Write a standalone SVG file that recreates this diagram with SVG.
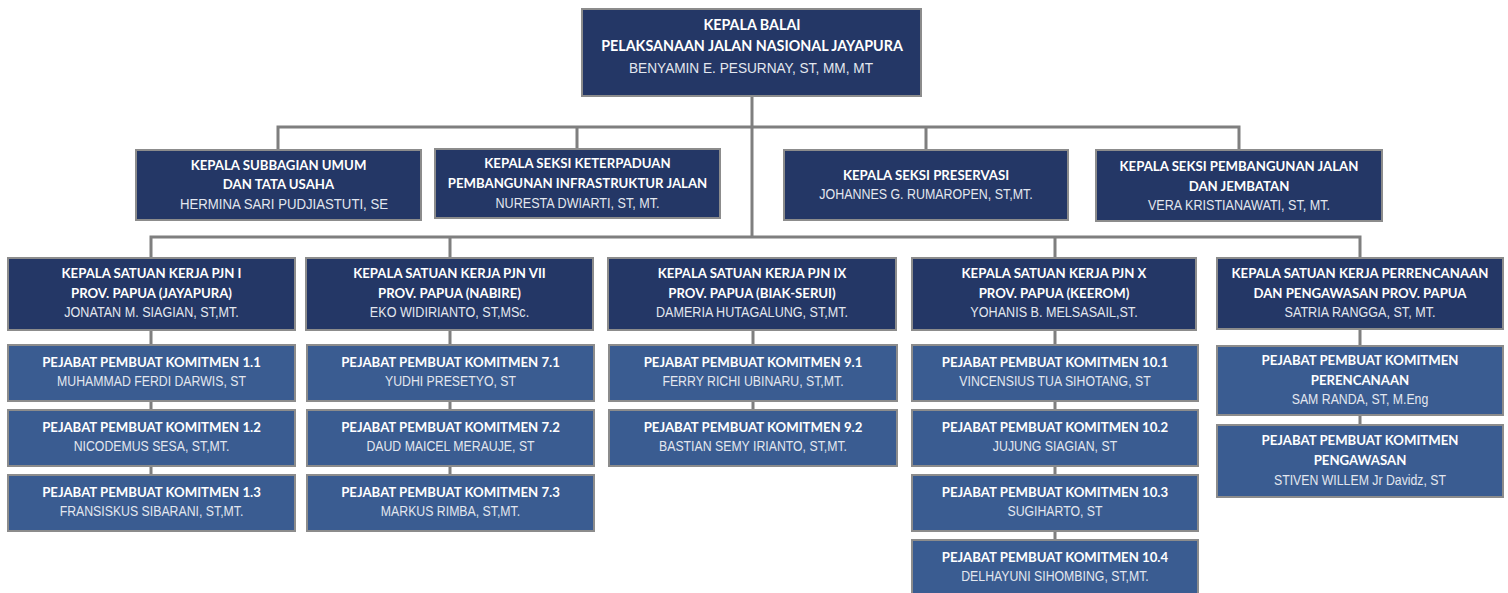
<svg xmlns="http://www.w3.org/2000/svg" width="1508" height="593" viewBox="0 0 1508 593">
<style>
.c{fill:none;stroke:#7f7f7f;stroke-width:3}
.d{fill:#243766;stroke:#8c8c8c;stroke-width:2}
.s{fill:#3a5c91;stroke:#8c8c8c;stroke-width:2}
.t{font-family:Lato,"Open Sans","Liberation Sans",sans-serif;font-weight:700;font-size:13.2px;fill:#ffffff;text-anchor:middle}
.tb{font-size:14.3px}
.n{font-family:"Liberation Sans Narrow","Liberation Sans",sans-serif;font-size:15px;fill:#e3e7ef;text-anchor:middle}
</style>
<rect width="1508" height="593" fill="#ffffff"/>
<g id="connectors">
<path class="c" d="M752 96V238"/>
<path class="c" d="M278 150V127H1239V150M577 127V149M926 127V150"/>
<path class="c" d="M151 258V237H1360V258M450 237V258M1055 237V258"/>
<path class="c" d="M151 330V475M450 330V475M753 330V410M1055 330V540M1360 330V425"/>
</g>
<g id="kepala-balai"><rect class="d" x="582" y="9" width="339" height="87"/>
<text class="t tb" x="752" y="30">KEPALA BALAI</text>
<text class="t tb" x="752" y="51">PELAKSANAAN JALAN NASIONAL JAYAPURA</text>
<text class="n" x="0" y="73" transform="matrix(0.91 0 0 1 751 0)">BENYAMIN E. PESURNAY, ST, MM, MT</text></g>
<g id="subbagian-umum"><rect class="d" x="136" y="150" width="285" height="70"/>
<text class="t" x="278.5" y="170">KEPALA SUBBAGIAN UMUM</text>
<text class="t" x="278.5" y="189">DAN TATA USAHA</text>
<text class="n" x="0" y="209" transform="matrix(0.88 0 0 1 284 0)">HERMINA SARI PUDJIASTUTI, SE</text></g>
<g id="seksi-keterpaduan"><rect class="d" x="435" y="149" width="285" height="69"/>
<text class="t" x="577.5" y="168">KEPALA SEKSI KETERPADUAN</text>
<text class="t" x="577.5" y="188">PEMBANGUNAN INFRASTRUKTUR JALAN</text>
<text class="n" x="0" y="208" transform="matrix(0.84 0 0 1 577.5 0)">NURESTA DWIARTI, ST, MT.</text></g>
<g id="seksi-preservasi"><rect class="d" x="784" y="150" width="284" height="70"/>
<text class="t" x="926" y="180">KEPALA SEKSI PRESERVASI</text>
<text class="n" x="0" y="199" transform="matrix(0.83 0 0 1 926 0)">JOHANNES G. RUMAROPEN, ST,MT.</text></g>
<g id="seksi-pembangunan"><rect class="d" x="1096" y="150" width="286" height="71"/>
<text class="t" x="1239" y="171">KEPALA SEKSI PEMBANGUNAN JALAN</text>
<text class="t" x="1239" y="191">DAN JEMBATAN</text>
<text class="n" x="0" y="210" transform="matrix(0.84 0 0 1 1239 0)">VERA KRISTIANAWATI, ST, MT.</text></g>
<g id="satker-pjn-1"><rect class="d" x="8" y="258" width="287" height="72"/>
<text class="t" x="151.5" y="278">KEPALA SATUAN KERJA PJN I</text>
<text class="t" x="151.5" y="298">PROV. PAPUA (JAYAPURA)</text>
<text class="n" x="0" y="317" transform="matrix(0.84 0 0 1 151.5 0)">JONATAN M. SIAGIAN, ST,MT.</text></g>
<g id="satker-pjn-7"><rect class="d" x="306" y="258" width="287" height="72"/>
<text class="t" x="449.5" y="278">KEPALA SATUAN KERJA PJN VII</text>
<text class="t" x="449.5" y="298">PROV. PAPUA (NABIRE)</text>
<text class="n" x="0" y="317" transform="matrix(0.84 0 0 1 449.5 0)">EKO WIDIRIANTO, ST,MSc.</text></g>
<g id="satker-pjn-9"><rect class="d" x="608" y="258" width="288" height="72"/>
<text class="t" x="752" y="278">KEPALA SATUAN KERJA PJN IX</text>
<text class="t" x="752" y="298">PROV. PAPUA (BIAK-SERUI)</text>
<text class="n" x="0" y="317" transform="matrix(0.84 0 0 1 752 0)">DAMERIA HUTAGALUNG, ST,MT.</text></g>
<g id="satker-pjn-10"><rect class="d" x="912" y="258" width="284" height="72"/>
<text class="t" x="1054" y="278">KEPALA SATUAN KERJA PJN X</text>
<text class="t" x="1054" y="298">PROV. PAPUA (KEEROM)</text>
<text class="n" x="0" y="317" transform="matrix(0.84 0 0 1 1054 0)">YOHANIS B. MELSASAIL,ST.</text></g>
<g id="satker-perencanaan"><rect class="d" x="1217" y="258" width="286" height="71"/>
<text class="t" x="1360" y="278">KEPALA SATUAN KERJA PERRENCANAAN</text>
<text class="t" x="1360" y="298">DAN PENGAWASAN PROV. PAPUA</text>
<text class="n" x="0" y="317" transform="matrix(0.84 0 0 1 1360 0)">SATRIA RANGGA, ST, MT.</text></g>
<g id="ppk-1-1"><rect class="s" x="8" y="345" width="287" height="56"/>
<text class="t" x="151.5" y="367">PEJABAT PEMBUAT KOMITMEN 1.1</text>
<text class="n" x="0" y="386" transform="matrix(0.82 0 0 1 151.5 0)">MUHAMMAD FERDI DARWIS, ST</text></g>
<g id="ppk-1-2"><rect class="s" x="8" y="410" width="287" height="56"/>
<text class="t" x="151.5" y="432">PEJABAT PEMBUAT KOMITMEN 1.2</text>
<text class="n" x="0" y="451" transform="matrix(0.82 0 0 1 151.5 0)">NICODEMUS SESA, ST,MT.</text></g>
<g id="ppk-1-3"><rect class="s" x="8" y="475" width="287" height="56"/>
<text class="t" x="151.5" y="497">PEJABAT PEMBUAT KOMITMEN 1.3</text>
<text class="n" x="0" y="516" transform="matrix(0.82 0 0 1 151.5 0)">FRANSISKUS SIBARANI, ST,MT.</text></g>
<g id="ppk-7-1"><rect class="s" x="307" y="345" width="287" height="56"/>
<text class="t" x="450.5" y="367">PEJABAT PEMBUAT KOMITMEN 7.1</text>
<text class="n" x="0" y="386" transform="matrix(0.82 0 0 1 450.5 0)">YUDHI PRESETYO, ST</text></g>
<g id="ppk-7-2"><rect class="s" x="307" y="410" width="287" height="56"/>
<text class="t" x="450.5" y="432">PEJABAT PEMBUAT KOMITMEN 7.2</text>
<text class="n" x="0" y="451" transform="matrix(0.82 0 0 1 450.5 0)">DAUD MAICEL MERAUJE, ST</text></g>
<g id="ppk-7-3"><rect class="s" x="307" y="475" width="287" height="56"/>
<text class="t" x="450.5" y="497">PEJABAT PEMBUAT KOMITMEN 7.3</text>
<text class="n" x="0" y="516" transform="matrix(0.82 0 0 1 450.5 0)">MARKUS RIMBA, ST,MT.</text></g>
<g id="ppk-9-1"><rect class="s" x="609" y="345" width="288" height="56"/>
<text class="t" x="753" y="367">PEJABAT PEMBUAT KOMITMEN 9.1</text>
<text class="n" x="0" y="386" transform="matrix(0.82 0 0 1 753 0)">FERRY RICHI UBINARU, ST,MT.</text></g>
<g id="ppk-9-2"><rect class="s" x="609" y="410" width="288" height="56"/>
<text class="t" x="753" y="432">PEJABAT PEMBUAT KOMITMEN 9.2</text>
<text class="n" x="0" y="451" transform="matrix(0.82 0 0 1 753 0)">BASTIAN SEMY IRIANTO, ST,MT.</text></g>
<g id="ppk-10-1"><rect class="s" x="912" y="345" width="286" height="56"/>
<text class="t" x="1055" y="367">PEJABAT PEMBUAT KOMITMEN 10.1</text>
<text class="n" x="0" y="386" transform="matrix(0.82 0 0 1 1055 0)">VINCENSIUS TUA SIHOTANG, ST</text></g>
<g id="ppk-10-2"><rect class="s" x="912" y="410" width="286" height="56"/>
<text class="t" x="1055" y="432">PEJABAT PEMBUAT KOMITMEN 10.2</text>
<text class="n" x="0" y="451" transform="matrix(0.82 0 0 1 1055 0)">JUJUNG SIAGIAN, ST</text></g>
<g id="ppk-10-3"><rect class="s" x="912" y="475" width="286" height="56"/>
<text class="t" x="1055" y="497">PEJABAT PEMBUAT KOMITMEN 10.3</text>
<text class="n" x="0" y="516" transform="matrix(0.82 0 0 1 1055 0)">SUGIHARTO, ST</text></g>
<g id="ppk-10-4"><rect class="s" x="912" y="540" width="286" height="58"/>
<text class="t" x="1055" y="562">PEJABAT PEMBUAT KOMITMEN 10.4</text>
<text class="n" x="0" y="581" transform="matrix(0.82 0 0 1 1055 0)">DELHAYUNI SIHOMBING, ST,MT.</text></g>
<g id="ppk-perencanaan"><rect class="s" x="1217" y="346" width="286" height="69"/>
<text class="t" x="1360" y="365">PEJABAT PEMBUAT KOMITMEN</text>
<text class="t" x="1360" y="385">PERENCANAAN</text>
<text class="n" x="0" y="404" transform="matrix(0.82 0 0 1 1360 0)">SAM RANDA, ST, M.Eng</text></g>
<g id="ppk-pengawasan"><rect class="s" x="1217" y="425" width="286" height="72"/>
<text class="t" x="1360" y="445">PEJABAT PEMBUAT KOMITMEN</text>
<text class="t" x="1360" y="465">PENGAWASAN</text>
<text class="n" x="0" y="485" transform="matrix(0.82 0 0 1 1360 0)">STIVEN WILLEM Jr Davidz, ST</text></g>
</svg>
